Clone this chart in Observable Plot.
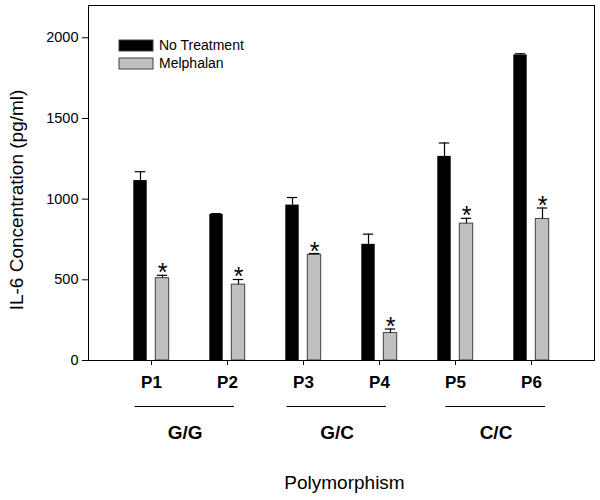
<!DOCTYPE html>
<html><head><meta charset="utf-8">
<script src="https://cdn.jsdelivr.net/npm/d3@7"></script>
<script src="https://cdn.jsdelivr.net/npm/@observablehq/plot@0.6"></script>
<style>
body{margin:0;background:#fff;}
#chart{position:relative;width:600px;height:500px;font-family:"Liberation Sans",Arial,sans-serif;color:#000;}
#chart svg.main{display:block;}
#legendBox{position:absolute;left:119px;top:37px;}
.lg-swatches{font-family:"Liberation Sans",Arial,sans-serif !important;font-size:14px !important;margin:0 !important;color:#000;}
.lg-swatch{line-height:17px;padding-bottom:1px;}
.lg-swatch > svg{margin-right:6px !important;}
.lg-swatch rect{stroke:#404040;stroke-width:1px;}
</style></head><body><div id="chart"><div id="legendBox"></div></div>
<script>
const polymorphisms = ["P1","P2","P3","P4","P5","P6"];
const series = ["No Treatment","Melphalan"];
const noTreatment = [1115, 905, 963, 720, 1265, 1893];
const noTreatmentErr = [55, 5, 47, 63, 83, 8];
const melphalan = [510, 470, 655, 170, 848, 877];
const melphalanErr = [18, 32, 8, 25, 33, 68];
const significant = [true, true, true, true, true, true];
const groups = ["G/G","G/C","C/C"];
const groupFirst = ["P1","P3","P5"];
const groupLast = ["P2","P4","P6"];
const yTicks = [0, 500, 1000, 1500, 2000];

const nt = polymorphisms.map((p,i)=>({p, series: series[0], value: noTreatment[i], err: noTreatmentErr[i]}));
const mel = polymorphisms.map((p,i)=>({p, series: series[1], value: melphalan[i], err: melphalanErr[i], sig: significant[i]}));
const grp = groups.map((g,i)=>({g, first: groupFirst[i], last: groupLast[i]}));

const font = "Liberation Sans, Arial, sans-serif";
const groupStyle = [
  {insetLeft: 21.5, insetRight: 31, dx: 33.6},
  {insetLeft: 21.5, insetRight: 31, dx: 33.6},
  {insetLeft: 28.4, insetRight: 24, dx: 40.5}
];

const plot = Plot.plot({
  width: 600, height: 500,
  marginLeft: 88, marginRight: 6, marginTop: 5, marginBottom: 140,
  style: {fontFamily: font, color: "#000", background: "#fff"},
  x: {domain: polymorphisms, paddingInner: 0, paddingOuter: 0.3, axis: null},
  y: {domain: [0, 2200], axis: null},
  color: {domain: series, range: ["#000000", "#c0c0c0"]},
  marks: [
    Plot.barY(nt, {x: "p", y: "value", fill: "series", insetLeft: 20.3, insetRight: 42.3}),
    Plot.barY(mel, {x: "p", y: "value", fill: "series", stroke: "#404040", strokeWidth: 1, insetLeft: 42.3, insetRight: 20.3}),
    Plot.ruleX(nt, {x: "p", y1: "value", y2: d => d.value + d.err, dx: -11, stroke: "#000", strokeWidth: 1.2}),
    Plot.tickY(nt, {x: "p", y: d => d.value + d.err, insetLeft: 21.8, insetRight: 43.8, stroke: "#000", strokeWidth: 1.2}),
    Plot.ruleX(mel, {x: "p", y1: "value", y2: d => d.value + d.err, dx: 11, stroke: "#000", strokeWidth: 1.2}),
    Plot.tickY(mel, {x: "p", y: d => d.value + d.err, insetLeft: 43.8, insetRight: 21.8, stroke: "#000", strokeWidth: 1.2}),
    Plot.text(mel.filter(d => d.sig), {x: "p", y: d => d.value + d.err, text: () => "*", dx: 11, dy: 6, lineAnchor: "bottom", fontSize: 25, fill: "#000"}),
    Plot.frame({stroke: "#000", strokeWidth: 1}),
    Plot.axisY({ticks: yTicks, tickFormat: d => String(d), tickSize: 6, tickPadding: 4, fontSize: 14.5, label: null, stroke: "#000", fill: "#000"}),
    Plot.axisX({tickSize: 5, tickPadding: 10, fontSize: 17, fontWeight: "bold", label: null, stroke: "#000", fill: "#000"}),
    ...grp.map((d, i) => Plot.ruleY([d], {x1: "first", x2: "last", y: () => 0, dy: 46, insetLeft: groupStyle[i].insetLeft, insetRight: groupStyle[i].insetRight, stroke: "#000", strokeWidth: 1})),
    ...grp.map((d, i) => Plot.text([d], {x: "first", y: () => 0, text: "g", dx: groupStyle[i].dx, dy: 72, lineAnchor: "middle", fontSize: 19, fontWeight: "bold", fill: "#000"})),
    Plot.text(["Polymorphism"], {frameAnchor: "bottom", text: d => d, dx: 3, dy: 122, textAnchor: "middle", lineAnchor: "middle", fontSize: 19, fill: "#000"}),
    Plot.text(["IL-6 Concentration (pg/ml)"], {frameAnchor: "left", text: d => d, rotate: -90, dx: -72, dy: 17, textAnchor: "middle", lineAnchor: "middle", fontSize: 19, fill: "#000"})
  ]
});
plot.classList.add("main");
document.getElementById("chart").prepend(plot);
const legend = plot.legend("color", {legend: "swatches", swatchWidth: 34, swatchHeight: 11, columns: 1, className: "lg"});
document.getElementById("legendBox").appendChild(legend);
</script>
</body></html>
